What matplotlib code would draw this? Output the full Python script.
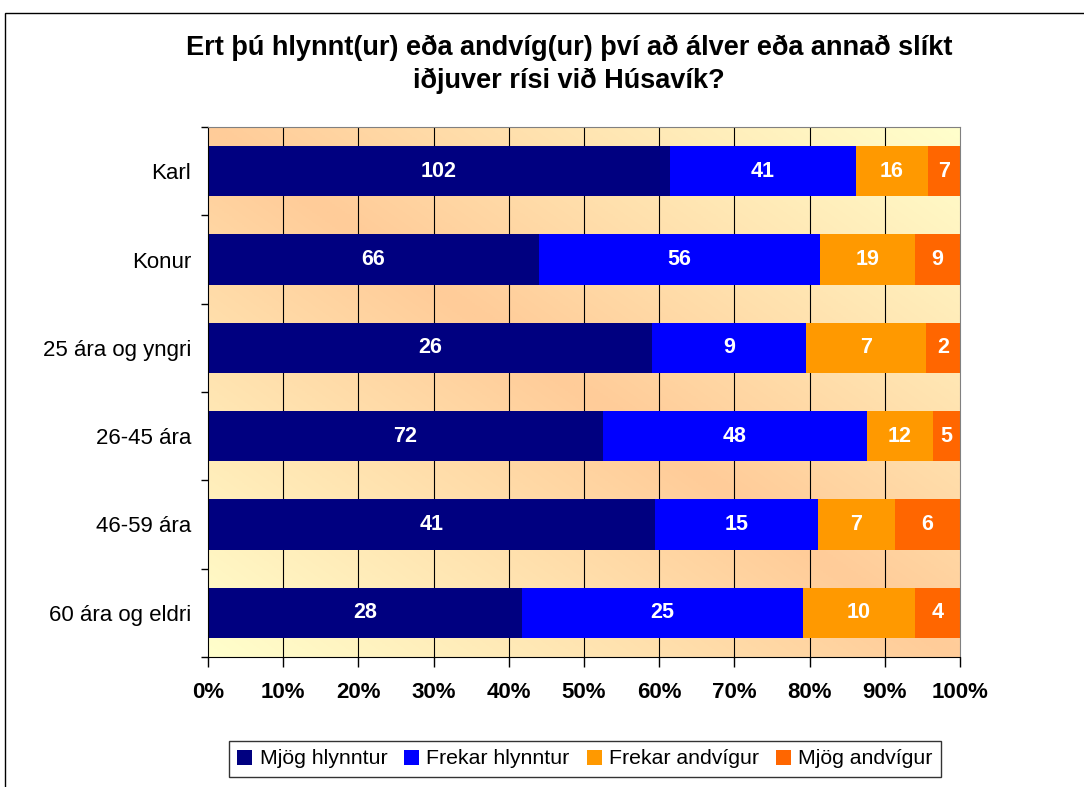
import matplotlib
matplotlib.use("Agg")
import matplotlib.pyplot as plt
import matplotlib.patches as patches
from matplotlib.colors import LinearSegmentedColormap
import numpy as np

plt.rcParams["font.family"] = ["Liberation Sans", "DejaVu Sans"]

# Gögn
hopar = ["Karl", "Konur", "25 ára og yngri", "26-45 ára", "46-59 ára", "60 ára og eldri"]
flokkar = ["Mjög hlynntur", "Frekar hlynntur", "Frekar andvígur", "Mjög andvígur"]
mjog_hlynntur = [102, 66, 26, 72, 41, 28]
frekar_hlynntur = [41, 56, 9, 48, 15, 25]
frekar_andvigur = [16, 19, 7, 12, 7, 10]
mjog_andvigur = [7, 9, 2, 5, 6, 4]
litir = ["#000080", "#0000FF", "#FF9900", "#FF6600"]
x_merki = [0, 10, 20, 30, 40, 50, 60, 70, 80, 90, 100]
titill = "Ert þú hlynnt(ur) eða andvíg(ur) því að álver eða annað slíkt\niðjuver rísi við Húsavík?"

gildi = np.array([mjog_hlynntur, frekar_hlynntur, frekar_andvigur, mjog_andvigur], dtype=float)
hlutfall = gildi / gildi.sum(axis=0) * 100

fig = plt.figure(figsize=(10.84, 7.87), dpi=100)
ax = fig.add_axes([208 / 1084, 1 - 657 / 787, 752 / 1084, 530 / 787])

# Bakgrunnur með skáhalla litabreytingu
cmap = LinearSegmentedColormap.from_list("bg", ["#FFCC99", "#FFFFCC"])
n = 300
u, v = np.meshgrid(np.linspace(0, 1, n), np.linspace(0, 1, n))
t = np.abs(u - v)
ax.imshow(t, cmap=cmap, vmin=0, vmax=1, extent=(0, 1, 0, 1), origin="upper",
          transform=ax.transAxes, aspect="auto", zorder=0, interpolation="bilinear")

# Lóðréttar línur
for x in x_merki[1:-1]:
    ax.axvline(x, color="black", lw=0.8, zorder=1)

y = np.arange(len(hopar))
vinstri = np.zeros(len(hopar))
for i in range(4):
    ax.barh(y, hlutfall[i], left=vinstri, height=0.57, color=litir[i],
            label=flokkar[i], zorder=2)
    for j in range(len(hopar)):
        ax.text(vinstri[j] + hlutfall[i][j] / 2, y[j], f"{int(gildi[i][j])}",
                ha="center", va="center", color="white", fontsize=15.5,
                fontweight="bold", zorder=3)
    vinstri += hlutfall[i]

ax.set_xlim(0, 100)
ax.set_ylim(len(hopar) - 0.5, -0.5)
ax.set_xticks(x_merki)
ax.set_xticklabels([f"{x}%" for x in x_merki], fontsize=16, fontweight="bold")
ax.set_yticks(np.arange(len(hopar) + 1) - 0.5)
ax.set_yticklabels([])
ax.set_yticks(y, minor=True)
ax.set_yticklabels(hopar, minor=True, fontsize=16)
ax.tick_params(axis="y", which="minor", length=0, pad=12)
ax.tick_params(axis="y", which="major", length=5, direction="out", width=1)
ax.tick_params(axis="x", length=7, direction="out", width=1, pad=11)

for s in ["top", "right"]:
    ax.spines[s].set_color("#808080")
for s in ["left", "bottom"]:
    ax.spines[s].set_color("black")

fig.text(0.525, 0.918, titill, ha="center", va="center", fontsize=19.5,
         fontweight="bold", linespacing=1.35)

leg = fig.legend(loc="center", bbox_to_anchor=(585 / 1084, 1 - 759 / 787), ncol=4,
                 fontsize=15.3, frameon=True, fancybox=False, edgecolor="black",
                 handlelength=0.7, handleheight=0.7, handletextpad=0.35,
                 columnspacing=0.8, borderpad=0.4)
leg.get_frame().set_linewidth(1)

fig.patches.append(patches.Rectangle((5 / 1084, -0.1), 1.2, 1.1 - 13 / 787,
                                     transform=fig.transFigure, fill=False,
                                     edgecolor="black", lw=1))

fig.savefig("out.png", dpi=100)
